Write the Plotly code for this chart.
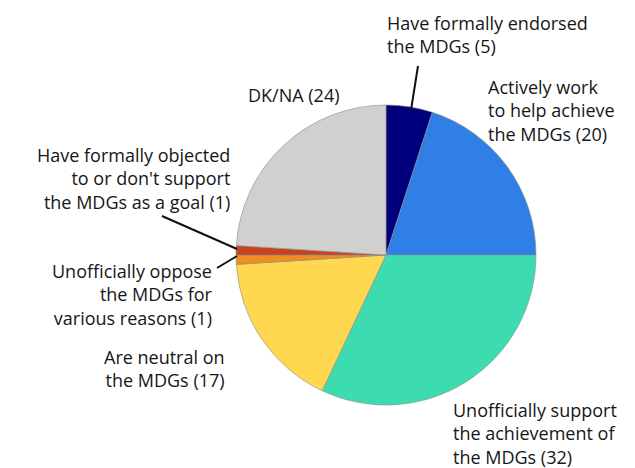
import plotly.graph_objects as go

W, H = 635, 468

# Survey responses, clockwise from 12 o'clock
categories = [
    "Have formally endorsed<br>the MDGs",
    "Actively work<br>to help achieve<br>the MDGs",
    "Unofficially support<br>the achievement of<br>the MDGs",
    "Are neutral on<br>the MDGs",
    "Unofficially oppose<br>the MDGs for<br>various reasons",
    "Have formally objected<br>to or don't support<br>the MDGs as a goal",
    "DK/NA",
]
values = [5, 20, 32, 17, 1, 1, 24]
colors = ["#00007c", "#2f7fe6", "#3ddcb0", "#ffd850", "#ee8f20", "#c8421e", "#d0d0d0"]


def px(x):
    return x / W


def py(y):
    return 1 - y / H


cx, cy, r = 386, 255, 150

fig = go.Figure(go.Pie(
    labels=categories,
    values=values,
    sort=False,
    direction="clockwise",
    rotation=0,
    textinfo="none",
    hoverinfo="label+value",
    marker=dict(colors=colors, line=dict(color="#8a8a8a", width=0.6)),
    domain=dict(x=[px(cx - r), px(cx + r)], y=[py(cy + r), py(cy - r)]),
    showlegend=False,
))

font_size = 18
font = dict(family="Open Sans, Noto Sans, sans-serif", size=font_size, color="#161616")
line_pitch = 1.3 * font_size

# label placement: (category index, x pixel, y pixel of first line centre, anchor)
placements = [
    (0, 386, 23, "left"),
    (1, 487, 87, "left"),
    (2, 452, 410, "left"),
    (3, 226, 357, "right"),
    (4, 214, 271, "right"),
    (5, 231, 155, "right"),
    (6, 247, 95, "left"),
]

annotations = []
for idx, x, y, anchor in placements:
    text = f"{categories[idx]} ({values[idx]})"
    n = text.count("<br>") + 1
    yc = y + (n - 1) * line_pitch / 2
    annotations.append(dict(
        x=px(x), y=py(yc), xref="paper", yref="paper",
        xanchor=anchor, yanchor="middle", align=anchor, borderpad=0,
        text=text, showarrow=False, font=font,
    ))

# leader lines to the narrow slices
leaders = [
    ((418, 66), (411, 110)),
    ((162, 216), (237, 249)),
    ((217, 268), (237, 256)),
]
shapes = [
    dict(type="line", xref="paper", yref="paper",
         x0=px(a[0]), y0=py(a[1]), x1=px(b[0]), y1=py(b[1]),
         line=dict(color="#111111", width=2))
    for a, b in leaders
]

fig.update_layout(
    width=W, height=H,
    margin=dict(l=0, r=0, t=0, b=0),
    paper_bgcolor="white",
    plot_bgcolor="white",
    annotations=annotations,
    shapes=shapes,
)

fig.write_html("out.html")
